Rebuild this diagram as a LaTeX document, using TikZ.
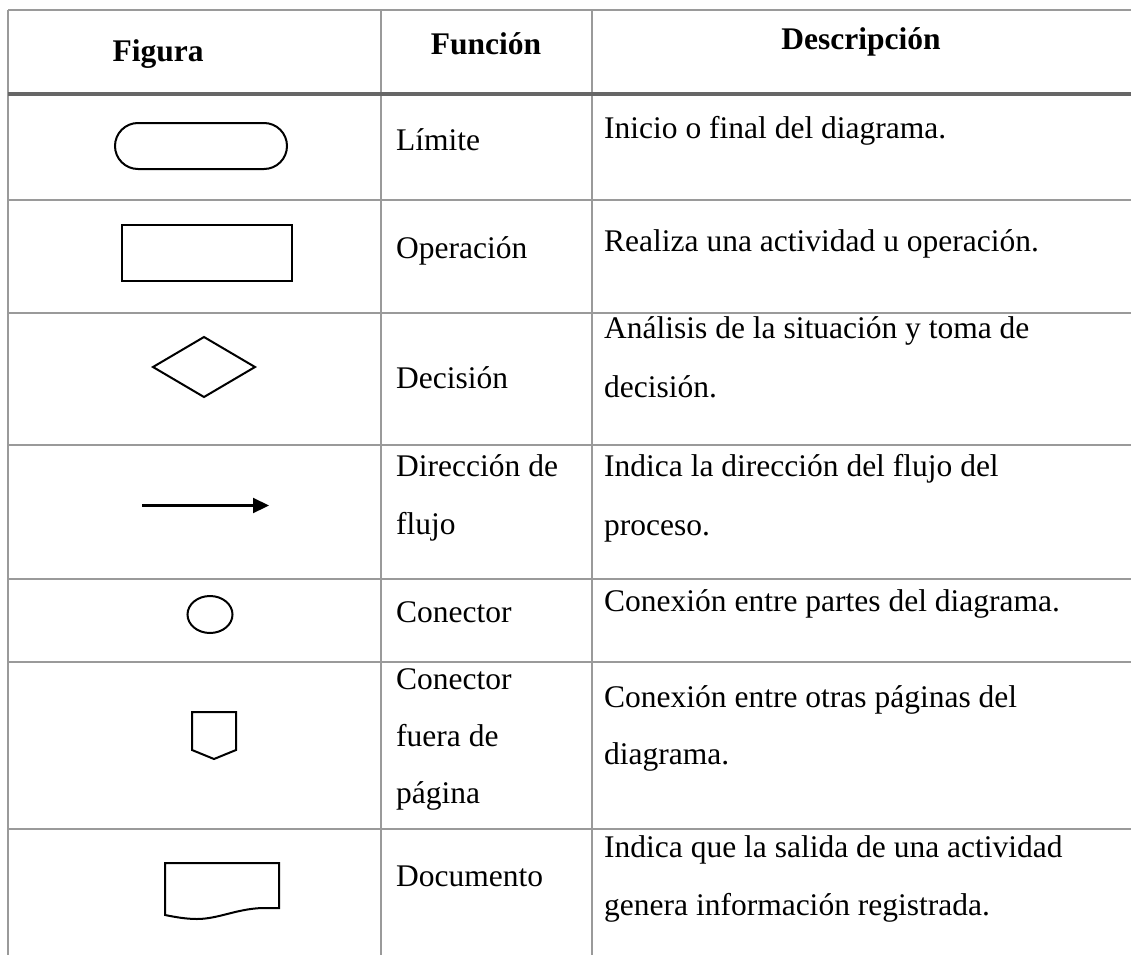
\documentclass[tikz,border=0pt]{standalone}
\usepackage{fontspec}
\setmainfont{Liberation Serif}
\usetikzlibrary{arrows.meta}
\definecolor{gridgray}{HTML}{9A9A9A}
\definecolor{rulegray}{HTML}{666666}
\newcommand{\bodyfnt}{\fontsize{31.5}{58}\selectfont}
\newcommand{\headfnt}{\fontsize{31.5}{58}\selectfont\bfseries}
\tikzset{
  gridline/.style={draw=gridgray, line width=1.8pt},
  headrule/.style={draw=rulegray, line width=3.8pt},
  shp/.style={draw=black, line width=2pt, line join=miter},
  celltxt/.style={anchor=base west, inner sep=0pt, font=\bodyfnt, text=black},
  headtxt/.style={anchor=base, inner sep=0pt, font=\headfnt, text=black},
}
\begin{document}
\begin{tikzpicture}[x=1pt, y=-1pt]
\useasboundingbox (0,0) rectangle (1131,955);
% grid
\draw[gridline] (8,10) -- (1131,10);
\draw[gridline] (8,10) -- (8,955);
\draw[gridline] (381,10) -- (381,955);
\draw[gridline] (592,10) -- (592,955);
\foreach \yy in {200,313,445,579,662,829}{\draw[gridline] (8,\yy) -- (1131,\yy);}
\draw[headrule] (8,94) -- (1131,94);
% header
\node[headtxt] (hfig) at (158,62) {Figura};
\node[headtxt] (hfun) at (486,55) {Función};
\node[headtxt] (hdes) at (861,50) {Descripción};
% shapes
\draw[shp, rounded corners=23pt] (115,123) rectangle (287,169);
\draw[shp] (122,225) rectangle (292,281);
\draw[shp] (153,367) -- (204,337) -- (255,367) -- (204,397) -- cycle;
\coordinate (arrA) at (142,505.5);
\coordinate (arrB) at (269,505.5);
\draw[line width=2.2pt, -{Triangle[length=16pt, width=15pt]}] (arrA) -- (arrB);
\draw[shp] (210,614.5) ellipse [x radius=22.5, y radius=18.5];
\draw[shp] (192,712) -- (236,712) -- (236,750) -- (214,759) -- (192,750) -- cycle;
\draw[shp] (165,863) -- (279,863) -- (279,908) -- (262,908)
  .. controls (236,909) and (218,919) .. (197,919)
  .. controls (186,919) and (175,917) .. (165,915) -- cycle;
% column 2
\node[celltxt] (f1) at (396,150) {Límite};
\node[celltxt] (f2) at (396,258) {Operación};
\node[celltxt] (f3) at (396,388) {Decisión};
\node[celltxt] (f4a) at (396,476) {Dirección de};
\node[celltxt] (f4b) at (396,534) {flujo};
\node[celltxt] (f5) at (396,622) {Conector};
\node[celltxt] (f6a) at (396,689) {Conector};
\node[celltxt] (f6b) at (396,746) {fuera de};
\node[celltxt] (f6c) at (396,803) {página};
\node[celltxt] (f7) at (396,886) {Documento};
% column 3
\node[celltxt] (d1) at (604,139) {Inicio o final del diagrama.};
\node[celltxt] (d2) at (604,251) {Realiza una actividad u operación.};
\node[celltxt] (d3a) at (604,338) {Análisis de la situación y toma de};
\node[celltxt] (d3b) at (604,397) {decisión.};
\node[celltxt] (d4a) at (604,476) {Indica la dirección del flujo del};
\node[celltxt] (d4b) at (604,535) {proceso.};
\node[celltxt] (d5) at (604,611) {Conexión entre partes del diagrama.};
\node[celltxt] (d6a) at (604,707) {Conexión entre otras páginas del};
\node[celltxt] (d6b) at (604,764) {diagrama.};
\node[celltxt] (d7a) at (604,857) {Indica que la salida de una actividad};
\node[celltxt] (d7b) at (604,915) {genera información registrada.};
\end{tikzpicture}
\end{document}
